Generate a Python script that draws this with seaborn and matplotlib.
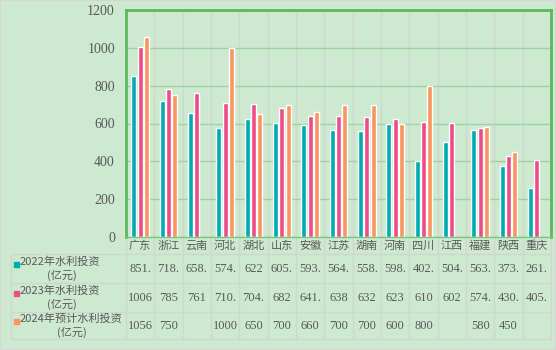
import matplotlib
matplotlib.use("Agg")
import matplotlib.pyplot as plt
import matplotlib.transforms as mtransforms
from matplotlib.lines import Line2D
from matplotlib.patches import Rectangle
import numpy as np
import pandas as pd
import seaborn as sns

# ---------------- data ----------------
provinces = ["广东", "浙江", "云南", "河北", "湖北", "山东", "安徽", "江苏",
             "湖南", "河南", "四川", "江西", "福建", "陕西", "重庆"]
series_names = ["2022年水利投资\n(亿元)", "2023年水利投资\n(亿元)", "2024年预计水利投资\n(亿元)"]
inv_2022 = [851, 718, 658, 574, 622, 605, 593, 564, 558, 598, 402, 504, 563, 373, 261]
inv_2023 = [1006, 785, 761, 710, 704, 682, 641, 638, 632, 623, 610, 602, 574, 430, 405]
inv_2024 = [1056, 750, None, 1000, 650, 700, 660, 700, 700, 600, 800, None, 580, 450, None]
# labels as shown in the data table (truncated by the cell width)
lbl_2022 = ["851.", "718.", "658.", "574.", "622", "605.", "593.", "564.", "558.", "598.",
            "402.", "504.", "563.", "373.", "261."]
lbl_2023 = ["1006", "785", "761", "710.", "704.", "682", "641.", "638", "632", "623",
            "610", "602", "574.", "430.", "405."]
lbl_2024 = ["1056", "750", "", "1000", "650", "700", "660", "700", "700", "600",
            "800", "", "580", "450", ""]
yticks = [0, 200, 400, 600, 800, 1000, 1200]

colors = ["#00abb1", "#ee4c87", "#f99560"]
bg = "#cde9cf"
txt = "#595959"

rows = []
for name, vals in zip(series_names, [inv_2022, inv_2023, inv_2024]):
    for p, v in zip(provinces, vals):
        if v is not None:
            rows.append({"省份": p, "投资": v, "系列": name})
df = pd.DataFrame(rows)

# ---------------- figure ----------------
sns.set_style("white")
plt.rcParams["font.family"] = ["Noto Sans CJK SC", "DejaVu Sans"]

fig = plt.figure(figsize=(5.56, 3.5), dpi=100)
fig.patch.set_facecolor(bg)
W, H = 556, 350
L, R, T, B = 126, 551, 10, 237
ax = fig.add_axes([L / W, 1 - B / H, (R - L) / W, (B - T) / H])
ax.set_facecolor(bg)

sns.barplot(data=df, x="省份", y="投资", hue="系列", order=provinces,
            hue_order=series_names, palette=colors, width=0.68, gap=0.2,
            errorbar=None, legend=False, ax=ax, saturation=1)

ax.set_ylim(0, 1200)
ax.set_xlim(-0.5, len(provinces) - 0.5)
ax.set_yticks(yticks)
ax.set_yticklabels([str(t) for t in yticks], family=["Liberation Serif"],
                   fontsize=10, color=txt)
ax.tick_params(axis="y", length=0, pad=8)
ax.set_xticks([])
ax.set_xlabel("")
ax.set_ylabel("")
ax.yaxis.grid(True, color="#9dd3a0", lw=1)
ax.set_axisbelow(True)

green = "#5cb85f"
for s in ["left", "top", "right"]:
    ax.spines[s].set_color(green)
    ax.spines[s].set_linewidth(2)
ax.spines["bottom"].set_color("#7cc57f")
ax.spines["bottom"].set_linewidth(1)

# ---------------- data table ----------------
ah = B - T
aw = R - L
def ay(py):  # pixel y -> axes fraction
    return (B - py) / ah
def axf(px):
    return (px - L) / aw

row_lines = [254, 283, 311.5, 339]
tbl_bottom = ay(row_lines[-1])
gridc = "#cfd8cf"
blend = mtransforms.blended_transform_factory(ax.transData, ax.transAxes)

# vertical category separators (plot + table)
for i in range(1, len(provinces)):
    ax.add_line(Line2D([i - 0.5, i - 0.5], [1, tbl_bottom], transform=blend,
                       color=gridc, lw=1, clip_on=False, zorder=0.5))
# table left & header separator & right edge
for px in [11, L, R]:
    top = ay(row_lines[0]) if px == 11 else 0
    ax.add_line(Line2D([axf(px), axf(px)], [top, tbl_bottom], transform=ax.transAxes,
                       color=gridc, lw=1, clip_on=False))
# horizontal row lines
for py in row_lines:
    ax.add_line(Line2D([axf(11), axf(R)], [ay(py), ay(py)], transform=ax.transAxes,
                       color=gridc, lw=1, clip_on=False))

# category labels
for i, p in enumerate(provinces):
    ax.text(i, ay(245.5), p, transform=blend, ha="center", va="center",
            fontsize=8, color=txt, clip_on=False)

# row headers and values
all_labels = [lbl_2022, lbl_2023, lbl_2024]
for r, (name, labs, c) in enumerate(zip(series_names, all_labels, colors)):
    y_top, y_bot = row_lines[r], row_lines[r + 1]
    yc = (y_top + y_bot) / 2
    line1, line2 = name.split("\n")
    ax.add_patch(Rectangle((axf(14), ay(yc - 1.5)), 5 / aw, 5 / ah,
                           transform=ax.transAxes, color=c, clip_on=False))
    ax.text(axf(20), ay(yc - 6.5), line1, transform=ax.transAxes, ha="left",
            va="center", fontsize=8, color=txt, clip_on=False)
    hx = 62 if r < 2 else 72
    ax.text(axf(hx), ay(yc + 7), line2, transform=ax.transAxes, ha="center",
            va="center", fontsize=8, color=txt, clip_on=False)
    for i, s in enumerate(labs):
        ax.text(i, ay(yc + 0.5), s, transform=blend, ha="center", va="center",
                fontsize=9, color=txt, family=["Liberation Serif"], clip_on=False)

# outer border
fig.add_artist(Rectangle((0, 0), 1, 1, transform=fig.transFigure, fill=False,
                         edgecolor="#d6d6d6", lw=1.5))

fig.savefig("out.png", dpi=100, facecolor=bg)
